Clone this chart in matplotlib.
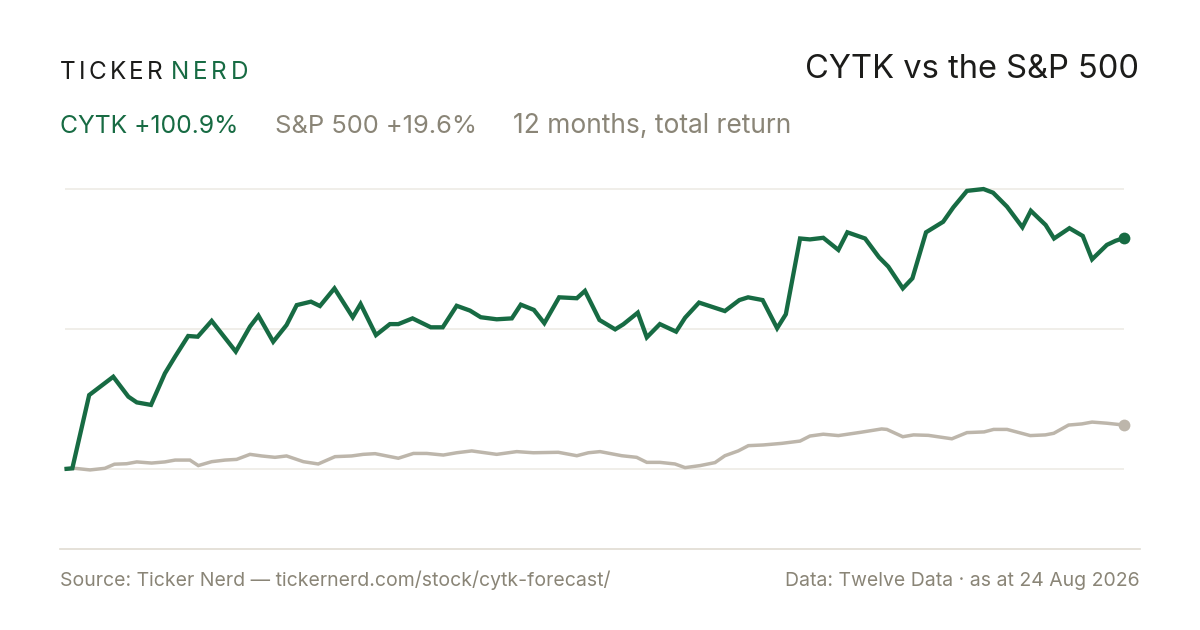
import matplotlib
matplotlib.use("Agg")
import matplotlib.pyplot as plt

# ---------------- data ----------------
# day offsets from start of the 12-month window, total return in %
cytk_days = [0, 2.7, 8.5, 16.8, 22.0, 24.9, 29.8, 34.6, 38.1, 42.6, 45.9, 50.7, 59.0, 63.9, 66.8,
             71.9, 76.5, 80.0, 84.9, 88.0, 93.0, 99.3, 102.0, 107.3, 112.1, 115.0, 119.9, 126.2,
             130.3, 135.1, 139.7, 143.4, 148.9, 154.1, 157.2, 161.7, 165.3, 170.4, 176.5, 179.3,
             184.3, 189.7, 192.5, 197.5, 200.6, 205.1, 210.7, 213.8, 218.6, 227.5, 232.5, 235.5,
             240.5, 245.5, 248.5, 253.4, 256.8, 261.4, 266.6, 269.7, 275.8, 280.6, 283.8, 288.8,
             292.1, 296.8, 302.7, 306.2, 310.9, 316.6, 319.9, 324.7, 330.0, 332.9, 338.0, 340.9,
             346.2, 350.8, 354.0, 359.1, 362.1, 365]
cytk_ret = [0, 0.3, 32.3, 40.3, 31.6, 29.1, 28.0, 41.8, 49.1, 58.1, 57.8, 64.7, 51.3, 62.2, 67.0,
            55.6, 62.9, 71.6, 73.1, 71.2, 78.9, 66.3, 72.1, 58.5, 63.3, 63.3, 65.8, 61.9,
            61.9, 71.3, 69.2, 66.3, 65.4, 65.8, 71.8, 69.5, 63.7, 75.0, 74.6, 77.8,
            65.1, 61.0, 63.2, 68.3, 57.5, 63.3, 60.0, 66.1, 72.7, 69.0, 73.8, 75.0,
            73.8, 61.5, 67.6, 100.7, 100.3, 101.0, 95.7, 103.4, 100.7, 92.5, 88.4, 78.9,
            83.3, 103.4, 108.0, 114.3, 121.5, 122.3, 120.7, 114.6, 105.6, 112.8, 106.6, 100.7,
            105.2, 101.8, 91.6, 97.9, 99.7, 100.9]

spx_days = [0, 3.6, 8.8, 13.9, 17.2, 21.4, 24.9, 30.0, 34.6, 38.1, 43.2, 46.1, 50.7, 55.3, 59.3,
            63.9, 67.9, 72.5, 76.5, 82.3, 87.4, 93.2, 98.9, 102.9, 107.0, 115.0, 120.2, 124.8,
            130.5, 135.1, 140.3, 148.9, 155.8, 161.5, 170.1, 176.5, 180.5, 184.5, 192.0, 197.1,
            200.6, 205.1, 210.3, 213.8, 219.0, 224.1, 227.5, 232.1, 235.6, 240.7, 247.1, 253.4,
            256.8, 261.4, 266.6, 274.1, 281.5, 283.3, 288.8, 292.5, 297.6, 305.7, 310.9, 316.8,
            320.1, 324.7, 332.7, 337.9, 340.8, 345.9, 350.5, 354.0, 359.1, 365]
spx_ret = [0, 0.3, -0.4, 0.3, 2.1, 2.3, 3.1, 2.6, 3.1, 3.9, 3.9, 1.5, 3.2, 3.9, 4.2,
           6.4, 5.7, 5.1, 5.7, 3.2, 2.2, 5.4, 5.7, 6.4, 6.7, 4.7, 6.8, 6.8,
           6.1, 7.1, 7.9, 6.4, 7.6, 7.1, 7.3, 5.8, 7.1, 7.6, 5.8, 5.1,
           2.9, 2.9, 2.2, 0.6, 1.5, 2.8, 5.8, 7.9, 10.2, 10.5, 11.2, 12.2,
           14.4, 15.2, 14.6, 16.0, 17.5, 17.3, 14.1, 14.9, 14.7, 13.2, 15.9, 16.2,
           17.3, 17.3, 14.6, 14.9, 15.6, 19.2, 19.7, 20.5, 20.0, 19.2]

grid_values = [0, 61.2, 122.4]

ticker = "CYTK"
cytk_total = "+100.9%"
spx_total = "+19.6%"
title = "CYTK vs the S&P 500"
period = "12 months, total return"
source = "Source: Ticker Nerd \u2014 tickernerd.com/stock/cytk-forecast/"
data_note = "Data: Twelve Data \u00b7 as at 24 Aug 2026"

# ---------------- style ----------------
GREEN = "#176b43"
GRAY_LINE = "#bdb6ab"
TEXT_GRAY = "#8a8577"
DARK = "#1c1c1a"
GRID = "#ece9e3"
RULE = "#e0dcd2"
FONT = ["Inter", "DejaVu Sans"]

W, H = 1200, 630
fig = plt.figure(figsize=(W / 100, H / 100), dpi=100)
fig.patch.set_facecolor("white")


def fx(px):
    return px / W


def fy(py):
    return 1 - py / H


# axes placement in pixels: x 64.5..1124, y 180..500
ax_left, ax_right, ax_top, ax_bot = 64.5, 1124.0, 180.0, 500.0
ax = fig.add_axes([fx(ax_left), fy(ax_bot), (ax_right - ax_left) / W, (ax_bot - ax_top) / H])
ax.set_xlim(0, 365)
ax.set_ylim(-13.54, 126.25)
ax.axis("off")

for g in grid_values:
    ax.axhline(g, color=GRID, lw=1.1, zorder=1)

ax.plot(spx_days, spx_ret, color=GRAY_LINE, lw=2.5, solid_joinstyle="miter",
        solid_capstyle="butt", zorder=2, clip_on=False)
ax.plot(cytk_days, cytk_ret, color=GREEN, lw=3.1, solid_joinstyle="miter",
        solid_capstyle="butt", zorder=3, clip_on=False)
ax.plot([spx_days[-1]], [spx_ret[-1]], "o", color=GRAY_LINE, ms=8.5, mec="none",
        zorder=4, clip_on=False)
ax.plot([cytk_days[-1]], [cytk_ret[-1]], "o", color=GREEN, ms=8.5, mec="none",
        zorder=5, clip_on=False)

# separator rule
fig.add_artist(plt.Line2D([fx(60), fx(1140)], [fy(548.5), fy(548.5)], color=RULE, lw=1.2))

renderer = fig.canvas.get_renderer()


def tracked(text, x0, y_base, size, color, tracking):
    x = x0
    for ch in text:
        t = fig.text(fx(x), fy(y_base), ch, fontsize=size, color=color, family=FONT,
                     ha="left", va="baseline")
        bb = t.get_window_extent(renderer)
        x += bb.width + tracking
    return x


# logo
end = tracked("TICKER", 60, 79, 17.5, DARK, 3.2)
tracked("NERD", end + 5.5, 79, 17.5, GREEN, 3.6)

# title
fig.text(fx(1139), fy(78), title, fontsize=23.5, color=DARK, family=FONT,
         ha="right", va="baseline")

# subtitle
fig.text(fx(60), fy(133), f"{ticker} {cytk_total}", fontsize=17.8, color=GREEN, family=FONT,
         ha="left", va="baseline")
fig.text(fx(275), fy(133), f"S&P 500 {spx_total}", fontsize=18.4, color=TEXT_GRAY, family=FONT,
         ha="left", va="baseline")
fig.text(fx(513), fy(133), period, fontsize=19.0, color=TEXT_GRAY, family=FONT,
         ha="left", va="baseline")

# footer
fig.text(fx(60), fy(586), source, fontsize=14, color=TEXT_GRAY, family=FONT,
         ha="left", va="baseline")
fig.text(fx(1140), fy(586), data_note, fontsize=14, color=TEXT_GRAY, family=FONT,
         ha="right", va="baseline")

fig.savefig("out.png", dpi=100, facecolor="white")
